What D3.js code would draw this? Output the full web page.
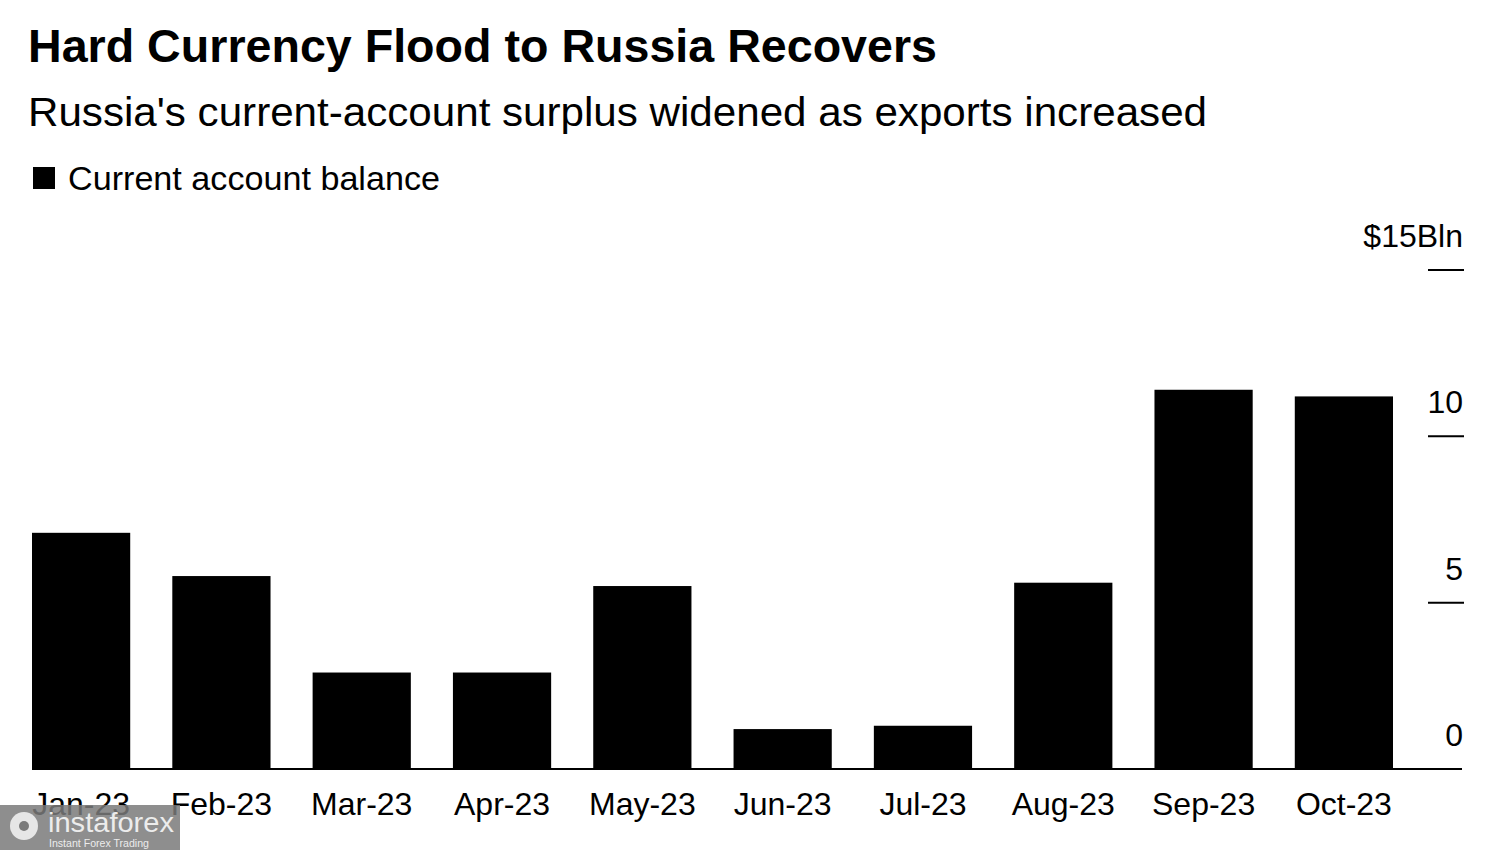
<!DOCTYPE html>
<html lang="en">
<head>
<meta charset="utf-8">
<title>Hard Currency Flood to Russia Recovers</title>
<script src="https://d3js.org/d3.v7.min.js"></script>
<style>
  body { margin: 0; background: #fff; }
  text { font-family: "Liberation Sans", Arial, sans-serif; fill: #000; }
</style>
</head>
<body>
<svg id="chart" width="1500" height="850"></svg>
<script>
var months = ["Jan-23", "Feb-23", "Mar-23", "Apr-23", "May-23", "Jun-23", "Jul-23", "Aug-23", "Sep-23", "Oct-23"];
var balance = [7.1, 5.8, 2.9, 2.9, 5.5, 1.2, 1.3, 5.6, 11.4, 11.2];
var yTicks = [0, 5, 10, 15];
var yTickLabels = ["0", "5", "10", "$15Bln"];

var svg = d3.select("#chart");

var x = d3.scaleBand().domain(months).range([32, 1393]).paddingInner(0.3).paddingOuter(0);
var y = d3.scaleLinear().domain([0, 15]).range([769, 270]);

// titles
svg.append("text").attr("x", 28).attr("y", 62)
  .attr("font-size", 46).attr("font-weight", "bold")
  .attr("textLength", 909).attr("lengthAdjust", "spacingAndGlyphs")
  .text("Hard Currency Flood to Russia Recovers");
svg.append("text").attr("x", 28).attr("y", 126)
  .attr("font-size", 40)
  .attr("textLength", 1179).attr("lengthAdjust", "spacingAndGlyphs")
  .text("Russia's current-account surplus widened as exports increased");

// legend
svg.append("rect").attr("x", 33).attr("y", 167).attr("width", 22).attr("height", 22).attr("fill", "#000");
svg.append("text").attr("x", 68).attr("y", 190)
  .attr("font-size", 34)
  .attr("textLength", 372).attr("lengthAdjust", "spacingAndGlyphs")
  .text("Current account balance");

// bars
svg.selectAll("rect.bar").data(months).enter().append("rect")
  .attr("class", "bar")
  .attr("x", function (d) { return x(d); })
  .attr("y", function (d, i) { return y(balance[i]); })
  .attr("width", x.bandwidth())
  .attr("height", function (d, i) { return y(0) - y(balance[i]); })
  .attr("fill", "#000");

// baseline
svg.append("line").attr("x1", 32).attr("x2", 1462).attr("y1", y(0)).attr("y2", y(0))
  .attr("stroke", "#000").attr("stroke-width", 2);

// right axis ticks
var ticks = svg.selectAll("g.tick").data(yTicks).enter().append("g").attr("class", "tick");
ticks.filter(function (d) { return d > 0; }).append("line")
  .attr("x1", 1428).attr("x2", 1464)
  .attr("y1", function (d) { return y(d); }).attr("y2", function (d) { return y(d); })
  .attr("stroke", "#000").attr("stroke-width", 2);
ticks.append("text")
  .attr("x", 1463).attr("y", function (d) { return y(d) - 23; })
  .attr("text-anchor", "end").attr("font-size", 32)
  .text(function (d, i) { return yTickLabels[i]; });

// x axis labels
svg.selectAll("text.xlab").data(months).enter().append("text")
  .attr("class", "xlab")
  .attr("x", function (d) { return x(d) + x.bandwidth() / 2; })
  .attr("y", 815)
  .attr("text-anchor", "middle").attr("font-size", 32)
  .text(function (d) { return d; });

// watermark
var wm = svg.append("g");
wm.append("rect").attr("x", 0).attr("y", 805).attr("width", 180).attr("height", 45)
  .attr("fill", "#7a7a7a").attr("opacity", 0.85);
wm.append("circle").attr("cx", 24).attr("cy", 826).attr("r", 14).attr("fill", "#e6e6e6");
wm.append("circle").attr("cx", 24).attr("cy", 826).attr("r", 5).attr("fill", "#7a7a7a");
wm.append("text").attr("x", 48).attr("y", 832).attr("font-size", 28)
  .attr("textLength", 126).attr("lengthAdjust", "spacingAndGlyphs")
  .style("fill", "#ececec").text("instaforex");
wm.append("text").attr("x", 49).attr("y", 847).attr("font-size", 10)
  .attr("textLength", 100).attr("lengthAdjust", "spacingAndGlyphs")
  .style("fill", "#ececec").text("Instant Forex Trading");
</script>
</body>
</html>
